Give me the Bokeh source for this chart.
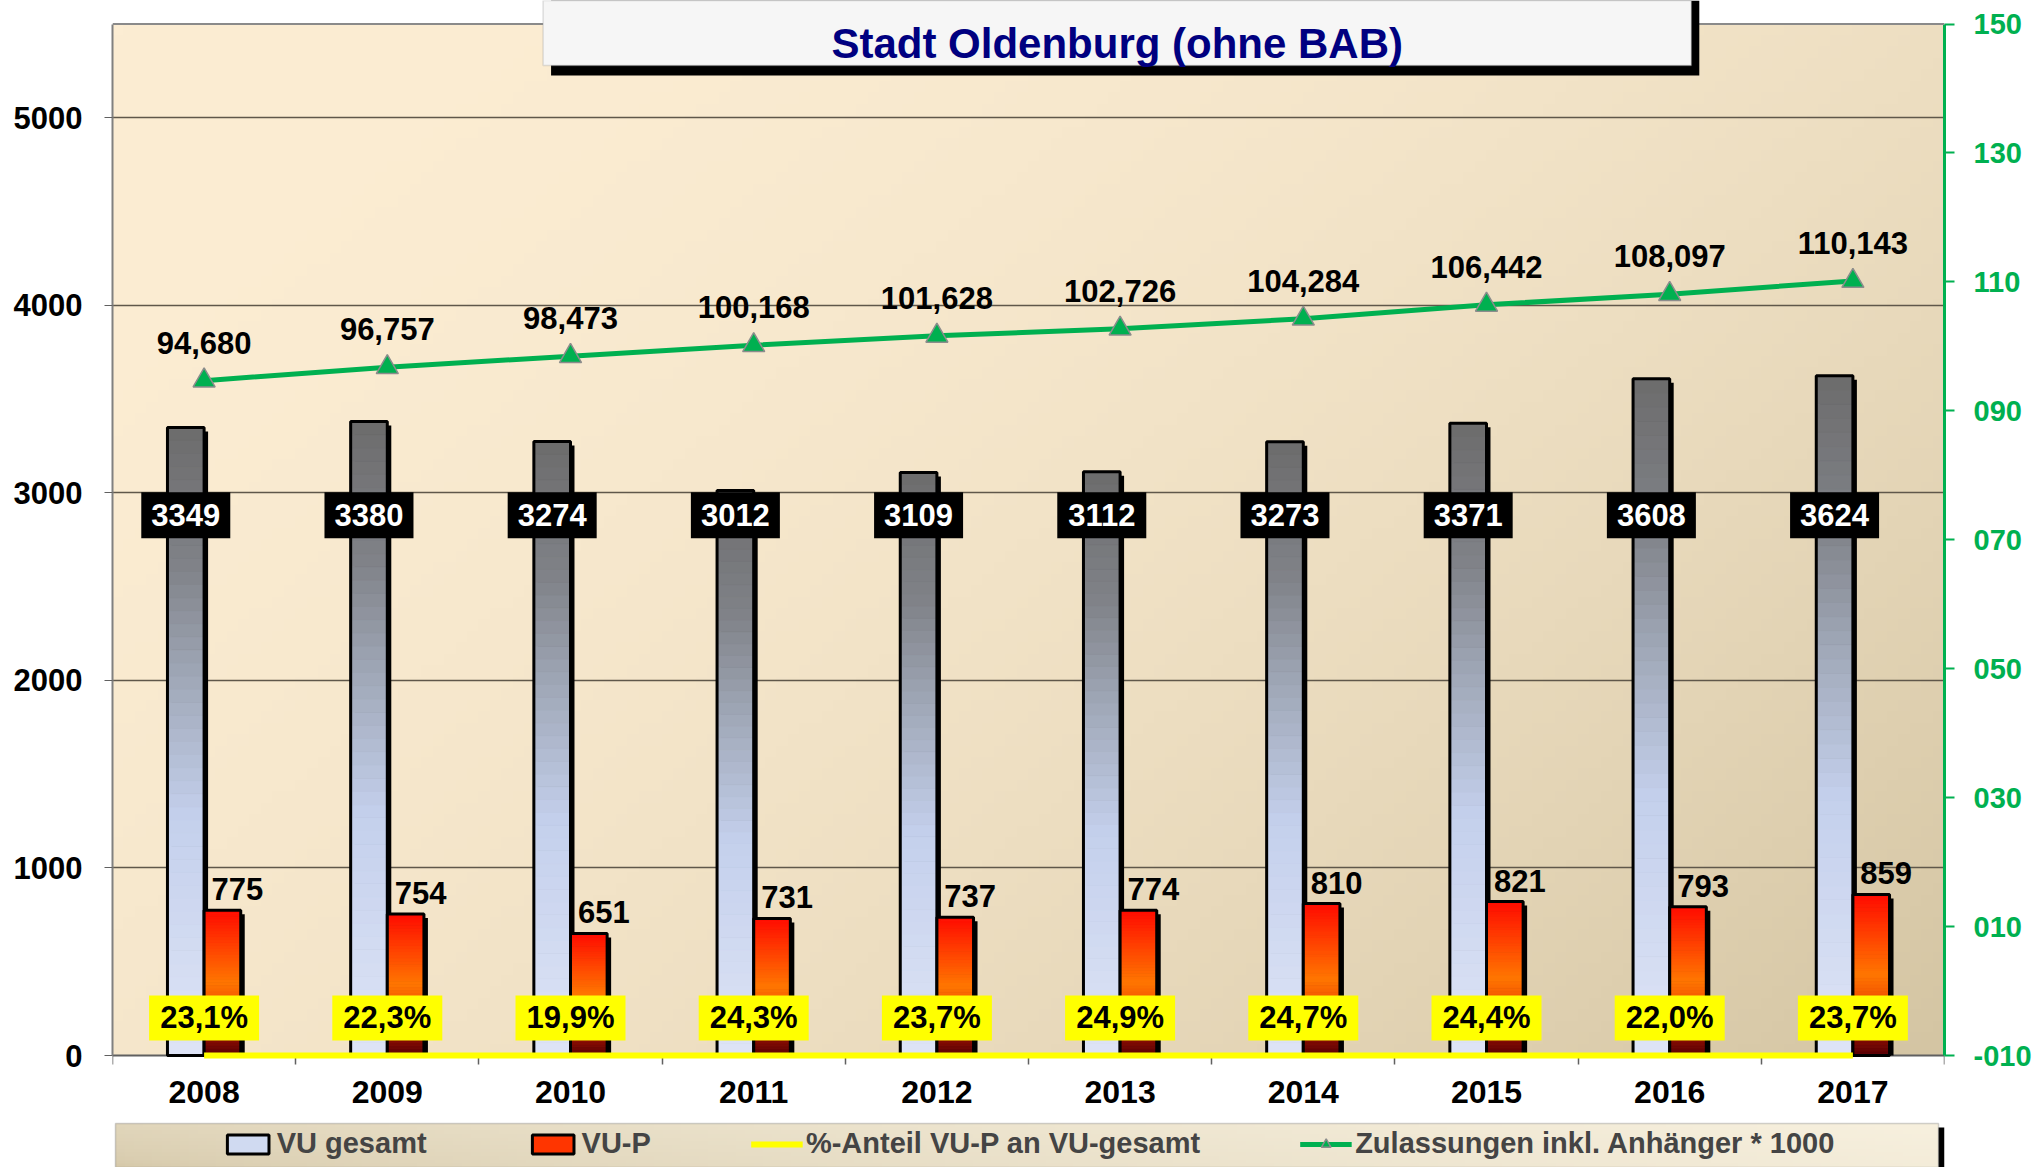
import numpy as np
from bokeh.plotting import figure
from bokeh.models import (Range1d, LinearAxis, FixedTicker, ColumnDataSource, Legend,
                          LegendItem, BoxAnnotation, Label, Span, Grid)
from bokeh.core.properties import value
from bokeh.embed import file_html
from bokeh.resources import INLINE

# ---------------- data ----------------
years = ["2008", "2009", "2010", "2011", "2012", "2013", "2014", "2015", "2016", "2017"]
vu_gesamt = [3349, 3380, 3274, 3012, 3109, 3112, 3273, 3371, 3608, 3624]
vu_p = [775, 754, 651, 731, 737, 774, 810, 821, 793, 859]
anteil_pct = [23.1, 22.3, 19.9, 24.3, 23.7, 24.9, 24.7, 24.4, 22.0, 23.7]
zulassungen = [94.680, 96.757, 98.473, 100.168, 101.628, 102.726, 104.284, 106.442, 108.097, 110.143]
left_ticks = [0, 1000, 2000, 3000, 4000, 5000]
right_ticks = [-10, 10, 30, 50, 70, 90, 110, 130, 150]
right_tick_labels = ["-010", "010", "030", "050", "070", "090", "110", "130", "150"]
title_text = "Stadt Oldenburg (ohne BAB)"
series_names = ["VU gesamt", "VU-P", "%-Anteil VU-P an VU-gesamt", "Zulassungen inkl. Anhänger * 1000"]

# ---------------- layout (figure pixels) ----------------
FIG_W, FIG_H = 2034, 1167
PX_L, PX_R = 112, 1950          # plot area left / right
PY_TOP, PY_0 = 23.5, 1055        # y of left-axis 5500 / 0
Y_MAX = 5500
R_MIN, R_MAX = -10, 150

ppu_x = (PX_R - PX_L) / 10.0
ppu_y = (PY_0 - PY_TOP) / Y_MAX


def xd(px):
    return -0.5 + (px - PX_L) / ppu_x


def yd(py):
    return (PY_0 - py) / ppu_y


y_lo, y_hi = yd(FIG_H), yd(0)
r_scale = (R_MAX - R_MIN) / Y_MAX

FONT = "Liberation Sans"

p = figure(width=FIG_W, height=FIG_H, x_range=Range1d(-0.5, 9.5), y_range=Range1d(y_lo, y_hi),
           output_backend="svg", toolbar_location=None,
           min_border_left=PX_L, min_border_right=FIG_W - PX_R,
           min_border_top=0, min_border_bottom=0,
           x_axis_location=None, y_axis_location=None)
p.extra_y_ranges = {"right": Range1d(y_lo * r_scale + R_MIN, y_hi * r_scale + R_MIN)}
p.background_fill_color = "white"
p.border_fill_color = "white"
p.outline_line_color = None
for g in p.grid:
    g.visible = False


def hexc(c):
    return "#%02x%02x%02x" % tuple(int(round(v)) for v in c)


def interp(stops, f):
    for (p0, c0), (p1, c1) in zip(stops[:-1], stops[1:]):
        if f <= p1:
            t = (f - p0) / (p1 - p0) if p1 > p0 else 0
            return tuple(a + (b - a) * t for a, b in zip(c0, c1))
    return stops[-1][1]


def rgba_image(h, w, func):
    img = np.empty((h, w), dtype=np.uint32)
    view = img.view(dtype=np.uint8).reshape((h, w, 4))
    for r in range(h):
        v = 1 - r / (h - 1)          # 0 top, 1 bottom
        for c in range(w):
            u = c / (w - 1)
            col = func(u, v)
            view[r, c, 0] = int(col[0])
            view[r, c, 1] = int(col[1])
            view[r, c, 2] = int(col[2])
            view[r, c, 3] = 255
    return img


# plot-area background gradient
BG0, BG1 = (252, 237, 211), (212, 197, 163)


def bg_func(u, v):
    t = (0.6 * u + 0.4 * v) ** 2
    return tuple(a + (b - a) * t for a, b in zip(BG0, BG1))


p.image_rgba(image=[rgba_image(90, 160, bg_func)], x=-0.5, y=0, dw=10, dh=Y_MAX, level="image")

# grid
grid = Grid(dimension=1, ticker=FixedTicker(ticks=left_ticks[1:]), grid_line_color="#5f574a",
            grid_line_width=1.3)
p.add_layout(grid)
p.add_layout(Span(location=Y_MAX, dimension="width", line_color="#8a8a8a", line_width=2))

# axes
left_axis = LinearAxis(ticker=FixedTicker(ticks=left_ticks), bounds=(0, Y_MAX),
                       axis_line_color="#808080", axis_line_width=2,
                       major_tick_line_color="#606060", major_tick_out=8, major_tick_in=0,
                       minor_tick_line_color=None,
                       major_label_text_font=FONT, major_label_text_font_style="bold",
                       major_label_text_font_size="31px", major_label_text_color="black",
                       major_label_standoff=22)
p.add_layout(left_axis, "left")

right_axis = LinearAxis(y_range_name="right", ticker=FixedTicker(ticks=right_ticks),
                        bounds=(R_MIN, R_MAX),
                        major_label_overrides={t: l for t, l in zip(right_ticks, right_tick_labels)},
                        axis_line_color="#00b050", axis_line_width=3,
                        major_tick_line_color="#00b050", major_tick_line_width=2,
                        major_tick_out=10, major_tick_in=0, minor_tick_line_color=None,
                        major_label_text_font=FONT, major_label_text_font_style="bold",
                        major_label_text_font_size="29px", major_label_text_color="#00b050",
                        major_label_standoff=19)
p.add_layout(right_axis, "right")

centers = np.arange(len(years))
x_axis = LinearAxis(ticker=FixedTicker(ticks=list(centers), minor_ticks=[i - 0.5 for i in range(len(years) + 1)]),
                    fixed_location=0, level="underlay",
                    major_label_overrides={int(i): y for i, y in zip(centers, years)},
                    axis_line_color="#606060", axis_line_width=2,
                    major_tick_out=0, major_tick_in=0,
                    minor_tick_line_color="#606060", minor_tick_line_width=1.5,
                    minor_tick_out=9, minor_tick_in=0,
                    major_label_text_font=FONT, major_label_text_font_style="bold",
                    major_label_text_font_size="32px", major_label_text_color="black",
                    major_label_standoff=16)
p.add_layout(x_axis, "below")

# ---------------- bars ----------------
BAR_W = 0.2
xg = centers - 0.1
xp = centers + 0.1
dx, dy = 4 / ppu_x, 4 / ppu_y

p.vbar(x=xg + dx, top=np.array(vu_gesamt) - dy, bottom=0, width=BAR_W, fill_color="black", line_color=None)
p.vbar(x=xp + dx, top=np.array(vu_p) - dy, bottom=0, width=BAR_W, fill_color="black", line_color=None)

G_STOPS = [(0, (108, 108, 108)), (0.22, (128, 130, 136)), (0.4, (160, 168, 184)),
           (0.62, (196, 208, 236)), (1.0, (222, 228, 246))]
P_STOPS = [(0, (255, 10, 0)), (0.5, (255, 118, 0)), (0.62, (245, 90, 0)), (0.8, (175, 25, 0)), (1.0, (90, 0, 5))]
N = 48


def slices(xs, vals, stops, top_first):
    d = dict(x=[], bottom=[], top=[], color=[])
    for x, v in zip(xs, vals):
        ks = range(N - 1, -1, -1) if top_first else range(N)
        for k in ks:
            d["x"].append(x)
            d["bottom"].append(v * k / N)
            d["top"].append(v * (k + 1) / N)
            d["color"].append(hexc(interp(stops, 1 - (k + 0.5) / N)))
    return ColumnDataSource(d)


g_sl = p.vbar(x="x", bottom="bottom", top="top", width=BAR_W, fill_color="color", line_color="color",
              line_width=1, source=slices(xg, vu_gesamt, G_STOPS, False))
g_out = p.vbar(x=xg, top=vu_gesamt, bottom=0, width=BAR_W, fill_color=None, line_color="black", line_width=3)
p_sl = p.vbar(x="x", bottom="bottom", top="top", width=BAR_W, fill_color="color", line_color="color",
              line_width=1, source=slices(xp, vu_p, P_STOPS, True))
p_out = p.vbar(x=xp, top=vu_p, bottom=0, width=BAR_W, fill_color=None, line_color="black", line_width=3)

# ---------------- lines ----------------
y_line = p.line(x=centers, y=np.array(anteil_pct) / 100.0, line_color="#ffff00", line_width=6)
z_line = p.line(x=centers, y=zulassungen, y_range_name="right", line_color="#00b050", line_width=5)
z_pts = p.scatter(x=centers, y=zulassungen, y_range_name="right", marker="triangle", size=22,
                  fill_color="#00b050", line_color="#8c8c8c", line_width=1.5)

# ---------------- labels ----------------
p.text(x=centers, y=zulassungen, y_range_name="right",
       text=[("%.3f" % v).replace(".", ",") for v in zulassungen],
       y_offset=-38, text_align="center", text_baseline="middle",
       text_font=value(FONT), text_font_style="bold", text_font_size=value("31px"), text_color="black")

LBL_G_Y = 2880
p.rect(x=xg, y=[LBL_G_Y] * len(years), width=89, height=46, width_units="screen", height_units="screen",
       fill_color="black", line_color=None)
p.text(x=xg, y=[LBL_G_Y] * len(years), text=[str(v) for v in vu_gesamt],
       text_align="center", text_baseline="middle",
       text_font=value(FONT), text_font_style="bold", text_font_size=value("31px"), text_color="white")

p.text(x=xp, y=vu_p, text=[str(v) for v in vu_p], x_offset=15, y_offset=-21,
       text_align="center", text_baseline="middle",
       text_font=value(FONT), text_font_style="bold", text_font_size=value("31px"), text_color="black")

LBL_P_Y = 200
p.rect(x=centers, y=[LBL_P_Y] * len(years), width=110, height=45, width_units="screen", height_units="screen",
       fill_color="#ffff00", line_color=None)
p.text(x=centers, y=[LBL_P_Y] * len(years), text=[("%.1f" % v).replace(".", ",") + "%" for v in anteil_pct],
       text_align="center", text_baseline="middle",
       text_font=value(FONT), text_font_style="bold", text_font_size=value("31px"), text_color="black")

# ---------------- title box ----------------
p.add_layout(BoxAnnotation(left=xd(552), right=xd(1704), top=y_hi, bottom=yd(75),
                           fill_color="black", fill_alpha=1, line_color=None))
p.add_layout(BoxAnnotation(left=xd(544), right=xd(1696), top=y_hi, bottom=yd(65),
                           fill_color="#f6f6f6", fill_alpha=1, line_color="#9a9a9a", line_width=1.5))
p.add_layout(Label(x=xd(1120), y=yd(43), text=title_text, text_align="center", text_baseline="middle",
                   text_font=FONT, text_font_style="bold", text_font_size="42px", text_color="#000080"))

# ---------------- legend ----------------
LG0, LG1 = (214, 201, 170), (247, 240, 222)


def lg_func(u, v):
    t = (0.85 * u + 0.15 * (1 - v)) ** 0.6
    return tuple(a + (b - a) * t for a, b in zip(LG0, LG1))


LX0, LX1, LY0, LY1 = 115, 1944, 1123, FIG_H
p.image_rgba(image=[rgba_image(12, 200, lg_func)], x=xd(LX0), y=yd(LY1), dw=xd(LX1) - xd(LX0),
             dh=yd(LY0) - yd(LY1), level="image")
p.add_layout(BoxAnnotation(left=xd(LX1), right=xd(LX1 + 6), top=yd(LY0 + 4), bottom=yd(LY1),
                           fill_color="black", fill_alpha=1, line_color=None))
p.add_layout(BoxAnnotation(left=xd(LX0), right=xd(LX1), top=yd(LY0), bottom=yd(LY1),
                           fill_alpha=0, line_color="#6e6e6e", line_width=1.5))

legend = Legend(items=[
    LegendItem(label=series_names[0], renderers=[g_sl, g_out], index=9),
    LegendItem(label=series_names[1], renderers=[p_sl, p_out], index=9),
    LegendItem(label=series_names[2], renderers=[y_line]),
    LegendItem(label=series_names[3], renderers=[z_line, z_pts]),
], orientation="horizontal", location="bottom_center", spacing=100, padding=6, margin=1,
    glyph_width=52, glyph_height=24, label_standoff=3,
    label_text_font=FONT, label_text_font_style="bold", label_text_font_size="29px",
    border_line_alpha=0, background_fill_alpha=0)
p.add_layout(legend)

open("out.html", "w").write(file_html(p, INLINE))
